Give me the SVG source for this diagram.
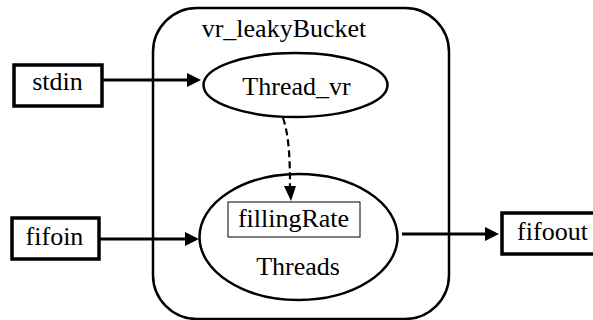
<svg xmlns="http://www.w3.org/2000/svg" width="593" height="320" viewBox="0 0 593 320">
<style>
text{font-size:26px;fill:#000;text-anchor:middle}
.box{fill:#fff;stroke:#000;stroke-width:3.5}
.ell{fill:#fff;stroke:#000;stroke-width:2.5}
.edge{fill:none;stroke:#000;stroke-width:3}
.dash{fill:none;stroke:#000;stroke-width:2.2;stroke-dasharray:7,4}
</style>
<g font-family="Liberation Serif, Times New Roman, serif">
<g id="vr_leakyBucket">
<rect x="153" y="8" width="296" height="311" rx="44" ry="44" fill="none" stroke="#000" stroke-width="2.5"/>
<text x="284" y="37">vr_leakyBucket</text>
</g>
<g id="stdin">
<rect class="box" x="14" y="65" width="88" height="41"/>
<text x="57.5" y="90">stdin</text>
</g>
<g id="Thread_vr">
<ellipse class="ell" cx="295.5" cy="85" rx="92" ry="32"/>
<text x="296.5" y="95">Thread_vr</text>
</g>
<g id="Threads">
<ellipse class="ell" cx="298.5" cy="237" rx="99" ry="63"/>
<rect x="228" y="202" width="132" height="35" fill="#fff" stroke="#000" stroke-width="1"/>
<text x="293.5" y="227">fillingRate</text>
<text x="298" y="275">Threads</text>
</g>
<g id="fifoin">
<rect class="box" x="12" y="218" width="87" height="41"/>
<text x="54.5" y="245">fifoin</text>
</g>
<g id="fifoout">
<rect class="box" x="502" y="213" width="101" height="41"/>
<text x="552.5" y="240">fifoout</text>
</g>
<g id="connectors">
<path class="edge" d="M103,80 L188,80"/>
<polygon points="187,73 201,80 187,87" fill="#000"/>
<path class="edge" d="M100,239 L186,239"/>
<polygon points="185,232 199,239 185,246" fill="#000"/>
<path class="edge" d="M402,234 L486,234"/>
<polygon points="485,227 499,234 485,241" fill="#000"/>
<path class="dash" d="M283,118 C289,135 290,160 290,186"/>
<polygon points="284,186 296,186 291,201" fill="#000"/>
</g>
</g>
</svg>
